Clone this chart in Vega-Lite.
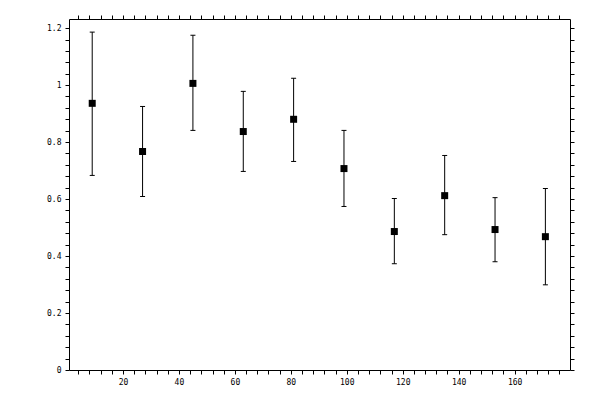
{
  "$schema": "https://vega.github.io/schema/vega-lite/v6.json",
  "width": 501,
  "height": 351,
  "autosize": {"type": "none"},
  "padding": {"left": 69, "top": 19, "right": 30, "bottom": 30},
  "background": "white",
  "config": {
    "view": {"stroke": null},
    "axis": {
      "domainColor": "black",
      "domainWidth": 1,
      "tickColor": "black",
      "tickWidth": 1,
      "tickSize": 4,
      "grid": false,
      "title": null,
      "labelFont": "DejaVu Sans Mono",
      "labelFontSize": 8,
      "labelColor": "black",
      "labelFlush": false,
      "labelOverlap": false,
      "labelBound": false,
      "format": "~g"
    }
  },
  "data": {
    "values": [
      {"x": 9, "y": 0.936, "lo": 0.683, "hi": 1.186},
      {"x": 27, "y": 0.767, "lo": 0.609, "hi": 0.925},
      {"x": 45, "y": 1.006, "lo": 0.841, "hi": 1.175},
      {"x": 63, "y": 0.837, "lo": 0.697, "hi": 0.978},
      {"x": 81, "y": 0.88, "lo": 0.732, "hi": 1.024},
      {"x": 99, "y": 0.707, "lo": 0.574, "hi": 0.841},
      {"x": 117, "y": 0.486, "lo": 0.373, "hi": 0.602},
      {"x": 135, "y": 0.612, "lo": 0.475, "hi": 0.753},
      {"x": 153, "y": 0.493, "lo": 0.38, "hi": 0.605},
      {"x": 171, "y": 0.468, "lo": 0.299, "hi": 0.637}
    ]
  },
  "layer": [
    {
      "encoding": {
        "x": {
          "field": "x", "type": "quantitative",
          "scale": {"domain": [0.7, 179.8], "nice": false, "zero": false},
          "axis": {
            "orient": "bottom",
            "values": [4,8,12,16,20,24,28,32,36,40,44,48,52,56,60,64,68,72,76,80,84,88,92,96,100,104,108,112,116,120,124,128,132,136,140,144,148,152,156,160,164,168,172,176],
            "labelExpr": "datum.value % 20 == 0 ? datum.label : ''",
            "labelPadding": 4,
            "encoding": {"ticks": {"update": {"y": [{"test": "datum.value % 20 == 0", "value": -4}, {"value": 0}]}}}
          }
        },
        "y": {
          "field": "y", "type": "quantitative",
          "scale": {"domain": [0, 1.232], "nice": false, "zero": false},
          "axis": {
            "orient": "left",
            "values": [0,0.04,0.08,0.12,0.16,0.2,0.24,0.28,0.32,0.36,0.4,0.44,0.48,0.52,0.56,0.6,0.64,0.68,0.72,0.76,0.8,0.84,0.88,0.92,0.96,1,1.04,1.08,1.12,1.16,1.2],
            "labelExpr": "abs(datum.value*5 - round(datum.value*5)) < 0.000001 ? datum.label : ''",
            "labelPadding": 4,
            "encoding": {"ticks": {"update": {"x": [{"test": "abs(datum.value*5 - round(datum.value*5)) < 0.000001", "value": 4}, {"value": 0}]}}}
          }
        }
      },
      "layer": [
        {
          "mark": {"type": "rule", "color": "black", "strokeWidth": 1},
          "encoding": {"y": {"field": "lo", "type": "quantitative"}, "y2": {"field": "hi"}}
        },
        {
          "mark": {"type": "tick", "orient": "horizontal", "color": "black", "size": 5, "thickness": 1, "opacity": 1},
          "encoding": {"y": {"field": "lo", "type": "quantitative"}}
        },
        {
          "mark": {"type": "tick", "orient": "horizontal", "color": "black", "size": 5, "thickness": 1, "opacity": 1},
          "encoding": {"y": {"field": "hi", "type": "quantitative"}}
        },
        {
          "mark": {"type": "point", "shape": "square", "filled": true, "color": "black", "size": 49, "opacity": 1}
        }
      ]
    },
    {
      "mark": {"type": "point", "opacity": 0},
      "encoding": {
        "x": {
          "field": "x", "type": "quantitative",
          "scale": {"domain": [0.7, 179.8], "nice": false, "zero": false},
          "axis": {
            "orient": "top",
            "values": [4,8,12,16,20,24,28,32,36,40,44,48,52,56,60,64,68,72,76,80,84,88,92,96,100,104,108,112,116,120,124,128,132,136,140,144,148,152,156,160,164,168,172,176],
            "labels": false,
            "encoding": {"ticks": {"update": {"y": [{"test": "datum.value % 20 == 0", "value": 4}, {"value": 0}]}}}
          }
        },
        "y": {
          "field": "y", "type": "quantitative",
          "scale": {"domain": [0, 1.232], "nice": false, "zero": false},
          "axis": {
            "orient": "right",
            "values": [0,0.04,0.08,0.12,0.16,0.2,0.24,0.28,0.32,0.36,0.4,0.44,0.48,0.52,0.56,0.6,0.64,0.68,0.72,0.76,0.8,0.84,0.88,0.92,0.96,1,1.04,1.08,1.12,1.16,1.2],
            "labels": false,
            "encoding": {"ticks": {"update": {"x": [{"test": "abs(datum.value*5 - round(datum.value*5)) < 0.000001", "value": -4}, {"value": 0}]}}}
          }
        }
      }
    }
  ],
  "resolve": {"scale": {"x": "independent", "y": "independent"}, "axis": {"x": "independent", "y": "independent"}}
}
